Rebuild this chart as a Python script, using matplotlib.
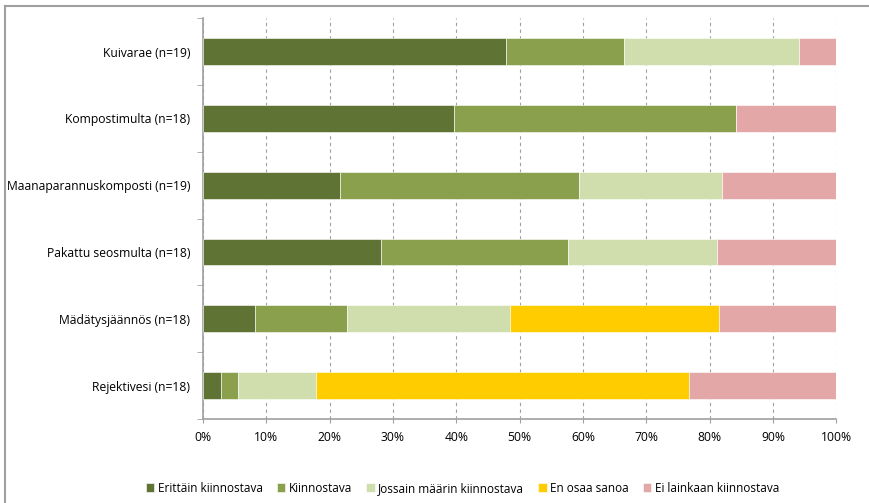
import numpy as np
import matplotlib.pyplot as plt
from matplotlib.lines import Line2D

categories = [
    "Kuivarae (n=19)",
    "Kompostimulta (n=18)",
    "Maanaparannuskomposti (n=19)",
    "Pakattu seosmulta (n=18)",
    "Mädätysjäännös (n=18)",
    "Rejektivesi (n=18)",
]
series = [
    "Erittäin kiinnostava",
    "Kiinnostava",
    "Jossain määrin kiinnostava",
    "En osaa sanoa",
    "Ei lainkaan kiinnostava",
]
erittain = [47.8, 39.6, 21.6, 28.1, 8.2, 2.8]
kiinnostava = [18.7, 44.6, 37.8, 29.6, 14.5, 2.7]
jossain = [27.6, 0.0, 22.5, 23.4, 25.8, 12.3]
en_osaa = [0.0, 0.0, 0.0, 0.0, 33.0, 59.0]
ei_lainkaan = [5.9, 15.8, 18.1, 18.9, 18.5, 23.2]
colors = ["#5F7334", "#8AA04C", "#D0DDAD", "#FFCC00", "#E2A7A6"]

values = [erittain, kiinnostava, jossain, en_osaa, ei_lainkaan]

plt.rcParams["font.family"] = ["Open Sans", "DejaVu Sans"]

fig = plt.figure(figsize=(8.7, 5.03), dpi=100)
ax = fig.add_axes([0.2333, 0.167, 0.7280, 0.797])

y = np.arange(len(categories))
left = np.zeros(len(categories))
for name, vals, c in zip(series, values, colors):
    ax.barh(y, vals, left=left, height=0.4, color=c, label=name,
            edgecolor="white", linewidth=0.4, zorder=3)
    left = left + np.array(vals)

ax.set_xlim(0, 100)
ax.set_ylim(len(categories) - 0.5, -0.5)
ax.set_xticks(np.arange(0, 101, 10))
ax.set_xticklabels([f"{v}%" for v in range(0, 101, 10)], fontsize=8.7)
ax.set_yticks(y)
ax.set_yticklabels(categories, fontsize=8.7)
ax.tick_params(axis="y", length=0, pad=9)
ax.tick_params(axis="x", length=3, color="#A0A0A0", pad=6)

# category boundary ticks on left axis
ax.set_yticks(np.arange(-0.5, len(categories), 1), minor=True)
ax.tick_params(axis="y", which="minor", length=4, color="#A0A0A0")

ax.grid(axis="x", linestyle=(0, (3, 3)), color="#A0A0A0", linewidth=0.8, zorder=0)
for s in ["top", "right"]:
    ax.spines[s].set_visible(False)
for s in ["left", "bottom"]:
    ax.spines[s].set_color("#A0A0A0")
    ax.spines[s].set_linewidth(1.2)

ax.legend(loc="upper center", bbox_to_anchor=(0.41, -0.13), ncol=5, frameon=False,
          fontsize=8.5, handlelength=0.7, handleheight=0.7, handletextpad=0.3,
          columnspacing=1.2)

# outer frame (top and left edges)
fig.add_artist(Line2D([5 / 870, 1], [1 - 6 / 503, 1 - 6 / 503], color="#A0A0A0", linewidth=1.5))
fig.add_artist(Line2D([5 / 870, 5 / 870], [0, 1 - 6 / 503], color="#A0A0A0", linewidth=1.5))

fig.savefig("out.png", dpi=100)
